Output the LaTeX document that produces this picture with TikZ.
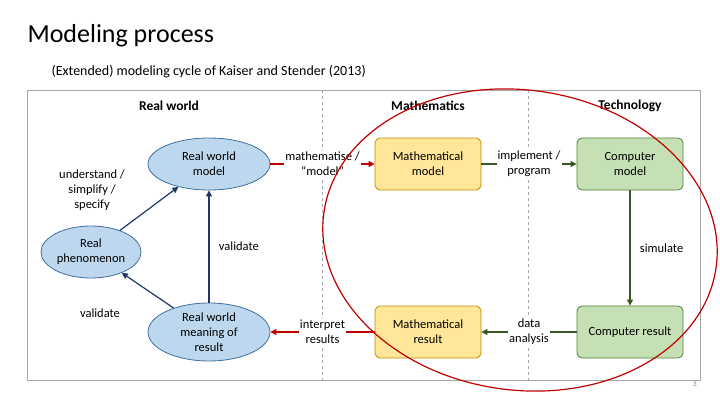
\documentclass[tikz,border=0pt]{standalone}
\usepackage{fontspec}
\setmainfont{Carlito}
\usetikzlibrary{arrows.meta,shapes.geometric}
\definecolor{bfill}{RGB}{189,215,238}
\definecolor{bdraw}{RGB}{65,113,156}
\definecolor{yfill}{RGB}{255,230,153}
\definecolor{ydraw}{RGB}{191,144,0}
\definecolor{gfill}{RGB}{197,224,180}
\definecolor{gdraw}{RGB}{84,130,53}
\definecolor{navyc}{RGB}{31,56,100}
\definecolor{redc}{RGB}{192,0,0}
\definecolor{grnc}{RGB}{56,87,35}
\begin{document}
\begin{tikzpicture}[x=1pt,y=-1pt,
  txt/.style={font=\fontsize{12.5}{15}\selectfont, align=center},
  ell/.style={txt, ellipse, draw=bdraw, fill=bfill, line width=0.8pt, minimum width=122pt, minimum height=52pt, inner sep=0pt},
  ybox/.style={txt, rectangle, rounded corners=5pt, draw=ydraw, fill=yfill, line width=0.8pt, minimum width=106pt, minimum height=52pt},
  gbox/.style={txt, rectangle, rounded corners=5pt, draw=gdraw, fill=gfill, line width=0.8pt, minimum width=106pt, minimum height=52pt},
  navy/.style={-{Triangle[length=6pt,width=6pt]}, line width=1.2pt, draw=navyc},
  redar/.style={-{Triangle[length=6pt,width=6pt]}, line width=1.2pt, draw=redc},
  grn/.style={-{Triangle[length=6pt,width=6pt]}, line width=1.2pt, draw=grnc},
  lab/.style={txt, fill=white, inner sep=1pt}
]
\useasboundingbox (0,0) rectangle (720,404);
\fill[white] (0,0) rectangle (720,404);
\node[anchor=west, font=\fontsize{26}{30}\selectfont] (title) at (24,36) {Modeling process};
\node[anchor=west, font=\fontsize{14}{16}\selectfont] (sub) at (48,72) {(Extended) modeling cycle of Kaiser and Stender (2013)};
\draw[gray!70, line width=0.6pt] (27,90) rectangle (700,380);
\draw[gray!70, dashed, line width=0.6pt] (322,90) -- (322,380);
\draw[gray!70, dashed, line width=0.6pt] (528,90) -- (528,380);
\node[txt, font=\bfseries\fontsize{13.5}{15}\selectfont] (h1) at (169,106) {Real world};
\node[txt, font=\bfseries\fontsize{13.5}{15}\selectfont] (h2) at (428,106) {Mathematics};
\node[txt, font=\bfseries\fontsize{13.5}{15}\selectfont] (h3) at (630,106) {Technology};
\node[ell] (rwm) at (209,164) {Real world\\model};
\node[ell, minimum width=100pt] (rp) at (91,252) {Real\\phenomenon};
\node[ell, minimum height=58pt] (mean) at (209,332) {Real world\\meaning of\\result};
\node[ybox] (mm) at (428,164) {Mathematical\\model};
\node[gbox] (cm) at (630,164) {Computer\\model};
\node[ybox] (mr) at (428,332) {Mathematical\\result};
\node[gbox] (cr) at (630,332) {Computer result};
\draw[navy] (rp) -- (rwm);
\node[txt] (l1) at (92,190) {understand /\\simplify /\\specify};
\draw[navy] (mean) -- (rp);
\node[txt] (l2) at (100,313) {validate};
\draw[navy] (mean) -- node[txt, right=6pt] {validate} (rwm);
\draw[redar] (rwm) -- node[lab] {mathematise /\\“model”} (mm);
\draw[grn] (mm) -- node[lab] {implement /\\program} (cm);
\draw[grn] (cm) -- node[txt, right=6pt] {simulate} (cr);
\draw[grn] (cr) -- node[lab] {data\\analysis} (mr);
\draw[redar] (mr) -- node[lab] {interpret\\results} (mean);
\draw[redc, line width=1.2pt, rotate around={-8:(520,240)}] (520,240) ellipse (198pt and 150pt);
\node[font=\fontsize{7}{8}\selectfont, gray] (pg) at (695,384) {3};
\end{tikzpicture}
\end{document}
